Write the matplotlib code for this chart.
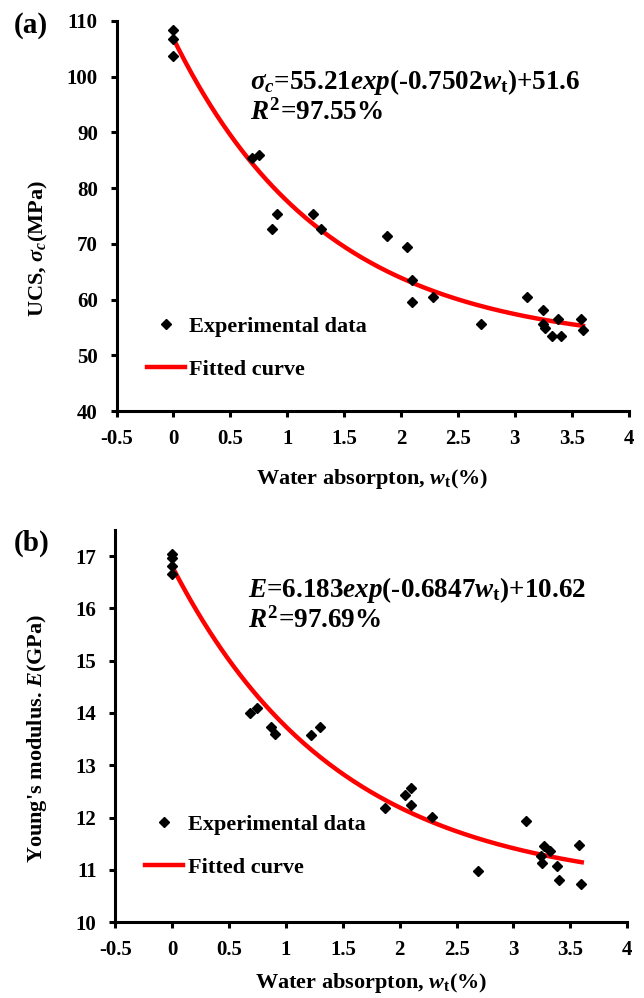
import numpy as np
import matplotlib
matplotlib.use("Agg")
import matplotlib.pyplot as plt

plt.rcParams['font.family'] = ['Liberation Serif', 'DejaVu Serif']
plt.rcParams['font.weight'] = 'bold'
plt.rcParams['mathtext.fontset'] = 'custom'
plt.rcParams['mathtext.rm'] = 'Liberation Serif:bold'
plt.rcParams['mathtext.it'] = 'Liberation Serif:italic:bold'
plt.rcParams['mathtext.bf'] = 'Liberation Serif:bold'
plt.rcParams['axes.unicode_minus'] = False

# (a) UCS vs water absorption
wt_a = [0, 0, 0, 0.69, 0.75, 0.87, 0.91, 1.23, 1.30, 1.88, 2.05, 2.10, 2.10,
        2.28, 2.70, 3.11, 3.25, 3.25, 3.27, 3.33, 3.38, 3.41, 3.58, 3.60]
ucs = [108.3, 106.8, 103.8, 85.5, 86.0, 72.7, 75.3, 75.3, 72.7, 71.5, 69.4, 63.5, 59.6,
       60.4, 55.6, 60.5, 58.1, 55.7, 54.9, 53.5, 56.5, 53.5, 56.5, 54.6]

# (b) Young's modulus vs water absorption
wt_b = [0, 0, 0, 0, 0.68, 0.75, 0.87, 0.90, 1.22, 1.30, 1.87, 2.05, 2.10, 2.10,
        2.28, 2.69, 3.11, 3.27, 3.24, 3.25, 3.32, 3.38, 3.40, 3.58, 3.59]
modulus = [17.04, 16.97, 16.81, 16.65, 13.99, 14.09, 13.74, 13.60, 13.58, 13.74, 12.18,
           12.43, 12.56, 12.24, 12.02, 10.97, 11.93, 11.46, 11.27, 11.13, 11.36, 11.08,
           10.80, 11.48, 10.73]

# fitted parameters y = a*exp(b*w) + c
fit_a = (55.21, -0.7502, 51.6)
fit_b = (6.183, -0.6847, 10.62)

xticks = [-0.5, 0, 0.5, 1, 1.5, 2, 2.5, 3, 3.5, 4]
xticklabels = ['-0.5', '0', '0.5', '1', '1.5', '2', '2.5', '3', '3.5', '4']


def style_axis(ax, ylim, yticks, xlabelpad):
    for s in ['top', 'right']:
        ax.spines[s].set_visible(False)
    for s in ['left', 'bottom']:
        ax.spines[s].set_linewidth(2.2)
    ax.set_xlim(-0.5, 4)
    ax.set_ylim(*ylim)
    ax.set_xticks(xticks)
    ax.set_xticklabels(xticklabels)
    ax.set_yticks(yticks)
    ax.tick_params(direction='out', length=4.5, width=2.2, labelsize=15)
    ax.tick_params(axis='x', pad=8)
    ax.tick_params(axis='y', pad=9)
    for lab in ax.get_xticklabels() + ax.get_yticklabels():
        lab.set_fontweight('bold')
    ax.set_xlabel(r'Water absorpton, $w_{\rm t}$(%)', fontsize=16, fontweight='bold',
                  labelpad=xlabelpad)


def draw_panel(ax, wt, vals, fit, ylabel, ylab_y, eq, r2, eq_y, leg_anchor):
    xs = np.linspace(0, 3.6, 200)
    a, b, c = fit
    ax.plot(wt, vals, linestyle='none', marker='D', markersize=5, color='black',
            label='Experimental data', zorder=3)
    ax.plot(xs, a * np.exp(b * xs) + c, color='red', linewidth=3.2, label='Fitted curve', zorder=2)
    ax.set_ylabel(ylabel, fontsize=16, fontweight='bold')
    ax.yaxis.set_label_coords(-0.13, ylab_y)
    ax.text(0.26, eq_y, eq, transform=ax.transAxes, fontsize=19.5, fontweight='bold')
    ax.text(0.26, eq_y - 0.078, r2, transform=ax.transAxes, fontsize=19.5, fontweight='bold')
    ax.legend(loc='upper left', bbox_to_anchor=leg_anchor, frameon=False,
              handlelength=1.7, handletextpad=0.2, borderpad=0, borderaxespad=0,
              labelspacing=1.0, prop={'weight': 'bold', 'size': 16})


fig = plt.figure(figsize=(6.44, 9.98), dpi=100)
ax1 = fig.add_axes([0.181, 0.588, 0.795, 0.391])
ax2 = fig.add_axes([0.179, 0.076, 0.795, 0.393])

style_axis(ax1, (40, 110), np.arange(40, 111, 10), 13)
style_axis(ax2, (10, 17.5), np.arange(10, 18, 1), 8)

draw_panel(ax1, wt_a, ucs, fit_a, r'UCS, $\sigma_c$(MPa)', 0.417,
           r'$\sigma_c$=55.21$exp$(-0.7502$w_{\rm t}$)+51.6', r'$R^{\rm 2}$=97.55%', 0.825,
           (0.059, 0.243))
draw_panel(ax2, wt_b, modulus, fit_b, r"Young's modulus. $E$(GPa)", 0.468,
           r'$E$=6.183$exp$(-0.6847$w_{\rm t}$)+10.62', r'$R^{\rm 2}$=97.69%', 0.83,
           (0.059, 0.275))

fig.text(0.022, 0.974, '(a)', fontsize=21, fontweight='bold', va='center')
fig.text(0.022, 0.456, '(b)', fontsize=21, fontweight='bold', va='center')

fig.savefig('out.png', dpi=100)
